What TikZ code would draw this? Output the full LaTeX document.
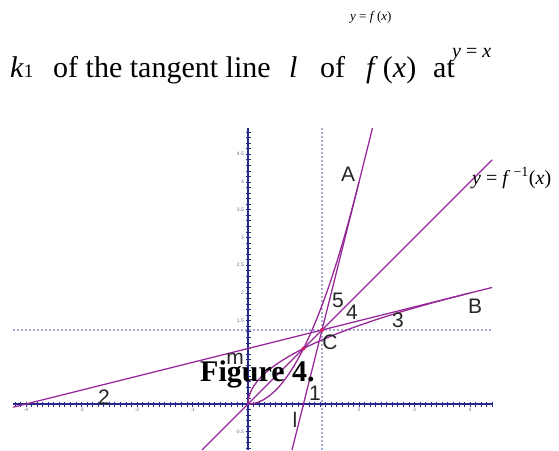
\documentclass[tikz,border=0pt]{standalone}
\usepackage{fontspec}
\setmainfont{Liberation Serif}
\setsansfont{Liberation Sans}
\definecolor{axisblue}{RGB}{40,40,140}
\definecolor{guideblue}{RGB}{165,168,212}
\definecolor{plotpurple}{RGB}{150,40,150}
\definecolor{pointred}{RGB}{210,30,100}
\definecolor{ticklabel}{RGB}{110,110,150}

\begin{document}
\begin{tikzpicture}[x=1pt,y=1pt,yscale=-1,
  curve/.style={draw=plotpurple,line width=1.3pt},
  guide/.style={draw=guideblue,line width=1.1pt,dash pattern=on 2pt off 2pt},
  axis/.style={draw=axisblue,line width=2pt},
  axtick/.style={draw=axisblue,line width=0.8pt},
  ticklbl/.style={text=ticklabel,font=\fontsize{5}{6}\selectfont\sffamily,inner sep=0pt},
  geolbl/.style={text=black!85,font=\fontsize{21}{24}\selectfont\sffamily,inner sep=0pt},
  dot/.style={circle,fill=pointred,inner sep=0pt,minimum size=4pt},
  body/.style={anchor=base west,inner sep=0pt,font=\fontsize{30}{36}\selectfont}]
\useasboundingbox (0,0) rectangle (559,450);

%Graph window (units of the plot)
\begin{scope}[shift={(248,404)},yscale=-1,x=55.5pt,y=55.5pt]
\coordinate (O) at (0,0);
\coordinate (xlo) at (-4.23,0);
\coordinate (xhi) at (4.4,0);
\coordinate (ylo) at (0,-0.83);
\coordinate (yhi) at (0,4.97);
\coordinate (vlo) at (4/3,-0.83);
\coordinate (vhi) at (4/3,4.97);
\coordinate (hlo) at (-4.23,4/3);
\coordinate (hhi) at (4.4,4/3);
\coordinate (yxlo) at (-0.83,-0.83);
\coordinate (yxhi) at (4.4,4.4);
\coordinate (llo) at (0.7925,-0.83);
\coordinate (lhi) at (2.2425,4.97);
\coordinate (mlo) at (-4.23,-0.0575);
\coordinate (mhi) at (4.4,2.1);
\coordinate (A) at (2,4);
\coordinate (B) at (4,2);

%Dashed lines through C
\draw[guide] (vlo) -- (vhi);
\draw[guide] (hlo) -- (hhi);

%Axes
\draw[axis] (xlo) -- (xhi);
\draw[axis] (ylo) -- (yhi);
\foreach \t in {-42,...,44}
  \draw[axtick] (\t/10,-0.045) -- (\t/10,0.045);
\foreach \t in {-8,...,49}
  \draw[axtick] (-0.045,\t/10) -- (0.045,\t/10);

%Tick labels
\foreach \v in {4.5,4,3.5,3,2.5,2,1.5,-0.5}
  \node[ticklbl,anchor=east] (ty\v) at (-0.07,\v) {\v};
\foreach \u in {-4,-3,-2,-1,2,3,4}
  \node[ticklbl] (tx\u) at (\u,-0.11) {\u};

%Straight Lines
\draw[curve] (yxlo) -- (yxhi);
\draw[curve] (llo) -- (lhi);
\draw[curve] (mlo) -- (mhi);

%Curves f and its inverse
\draw[curve] plot[domain=0:2,samples=60] (\x,{\x*\x});
\draw[curve] plot[domain=0:2,samples=60] ({\x*\x},\x);

%Points
\node[dot] (P) at (1,1) {};
\node[dot] (C) at (4/3,4/3) {};
\end{scope}

%Labels of the graph
\node[geolbl] (labA) at (348,174) {A};
\node[geolbl] (labB) at (475,306) {B};
\node[geolbl] (labC) at (330,342) {C};
\node[geolbl] (lab1) at (315,393) {1};
\node[geolbl] (lab2) at (104,397) {2};
\node[geolbl] (lab3) at (398,320) {3};
\node[geolbl] (lab4) at (352,312) {4};
\node[geolbl] (lab5) at (338,300) {5};
\node[geolbl] (labl) at (295,420) {l};
\node[geolbl] (labm) at (235,359) {m};

% Text Node
\node[anchor=base west,inner sep=0pt,font=\fontsize{13}{15}\selectfont] (yfx) at (350,20) {\textit{y} = \textit{f}\,(\textit{x})};
% Text Node
\node[body] (k1) at (10,77) {\textit{k}{\fontsize{19}{20}\selectfont 1}};
% Text Node
\node[body] (ofthe) at (53,77) {of the tangent line};
% Text Node
\node[body] (ell) at (289,77) {\textit{l}};
% Text Node
\node[body] (of) at (320,77) {of};
% Text Node
\node[body] (fx) at (366,77) {\textit{f}\,(\textit{x})};
% Text Node
\node[body] (at) at (433,77) {at};
% Text Node
\node[anchor=base west,inner sep=0pt,font=\fontsize{20}{24}\selectfont] (yx) at (452,57) {\textit{y} = \textit{x}};
% Text Node
\node[anchor=base west,inner sep=0pt,font=\fontsize{20}{24}\selectfont] (yinv) at (472,184) {\textit{y} = \textit{f}\,\textsuperscript{−1}(\textit{x})};
% Text Node
\node[body,font=\fontsize{30}{36}\selectfont\bfseries] (fig) at (200,381) {Figure 4.};

\end{tikzpicture}
\end{document}
